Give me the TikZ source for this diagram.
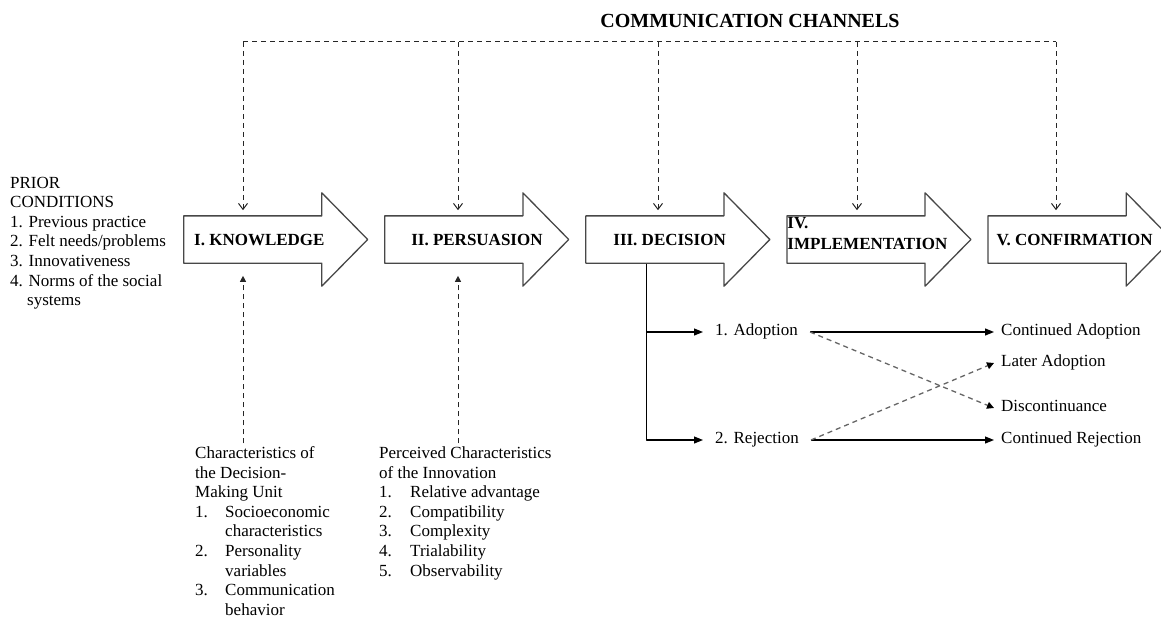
\documentclass[tikz,border=0pt]{standalone}
\usepackage{fontspec}
\setmainfont{Liberation Serif}
\usetikzlibrary{shapes.arrows,positioning,calc,arrows.meta}
\begin{document}
\begin{tikzpicture}[x=1pt,y=-1pt,line join=round,font=\fontsize{17}{19.6}\selectfont,
		stage/.style={single arrow,draw=black!72,line width=1.3pt,fill=white,minimum height=184pt,single arrow head extend=23pt,single arrow tip angle=91,inner xsep=0pt,inner ysep=23pt,text height=0pt,text depth=0pt},
		stagetext/.style={inner sep=0pt,font=\fontsize{17}{21}\selectfont\bfseries,text height=11.3pt,text depth=0pt},
		chan/.style={line width=1pt,draw=black!85,dash pattern=on 5pt off 4pt},
		flow/.style={line width=1.1pt,-{Triangle[length=9pt,width=7pt]}},
		crossflow/.style={line width=1.3pt,draw=black!60,dash pattern=on 5pt off 4pt,-{Triangle[length=7pt,width=7pt,black]}},
		choice/.style={inner xsep=12pt,inner ysep=0pt,text height=11.6pt,text depth=3.7pt,anchor=west},
		result/.style={inner xsep=7pt,inner ysep=0pt,text height=11.6pt,text depth=3.7pt,anchor=west},
		listtext/.style={inner sep=0pt,align=left,anchor=north west}]
	\useasboundingbox (0,0) rectangle (1161,639);
	\node[font=\fontsize{20}{24}\selectfont\bfseries] (title) at (750,21) {COMMUNICATION CHANNELS};
	\node[stage,anchor=tail] (kn) at (183,239.5) {};
	\node[stage,right=15.5pt of kn] (pe) {};
	\node[stage,right=15.5pt of pe] (de) {};
	\node[stage,right=15.5pt of de] (im) {};
	\node[stage,right=15.5pt of im] (co) {};
	\node[stagetext,right=11pt of kn.tail] (knt) {I. KNOWLEDGE};
	\node[stagetext,right=27pt of pe.tail] (pet) {II. PERSUASION};
	\node[stagetext,right=28pt of de.tail] (det) {III. DECISION};
	\node[inner sep=0pt,font=\fontsize{17}{21}\selectfont\bfseries,align=left,anchor=north west] (imt) at ($(im.tail)+(1,-22.5)$) {IV.\\IMPLEMENTATION};
	\node[stagetext,right=9pt of co.tail] (cot) {V. CONFIRMATION};
	\node[listtext] (prior) at (10,176.7) {PRIOR\\CONDITIONS\\1. Previous practice\\2. Felt needs/problems\\3. Innovativeness\\4. Norms of the social\\\hspace*{17pt}systems};
	\node[listtext] (unit) at (195,446.4) {Characteristics of\\the Decision-\\Making Unit\\\makebox[30pt][l]{1.}Socioeconomic\\\hspace*{30pt}characteristics\\\makebox[30pt][l]{2.}Personality\\\hspace*{30pt}variables\\\makebox[30pt][l]{3.}Communication\\\hspace*{30pt}behavior};
	\node[listtext] (innov) at (379,446.4) {Perceived Characteristics\\of the Innovation\\\makebox[31pt][l]{1.}Relative advantage\\\makebox[31pt][l]{2.}Compatibility\\\makebox[31pt][l]{3.}Complexity\\\makebox[31pt][l]{4.}Trialability\\\makebox[31pt][l]{5.}Observability};
	\foreach \s/\x in {kn/243,pe/458,de/658,im/857,co/1056}{
		\coordinate (top-\s) at (\x,42);
		\draw[chan,-{Straight Barb[length=6pt,width=9pt]},shorten >=5pt] (top-\s) -- (top-\s |- \s.north);
	}
	\draw[chan] (top-kn) -- (top-co);
	\draw[chan,-{Triangle[length=6pt,width=6pt]},shorten >=12pt] ([yshift=3pt]unit.north -| top-kn) -- (top-kn |- kn.south);
	\draw[chan,-{Triangle[length=6pt,width=6pt]},shorten >=12pt] ([yshift=3pt]innov.north -| top-pe) -- (top-pe |- pe.south);
	\node[choice] (ad) at (703,332) {1. Adoption};
	\node[choice] (rj) at (703,440) {2. Rejection};
	\node[result] (ca) at (994,332) {Continued Adoption};
	\node[result] (la) at (994,363) {Later Adoption};
	\node[result] (dc) at (994,408) {Discontinuance};
	\node[result] (cr) at (994,440) {Continued Rejection};
	\coordinate (split) at ($(de.tail)+(61,0)$);
	\draw[flow] (split |- de.south) |- (ad);
	\draw[flow] (split |- de.south) |- (rj);
	\draw[flow] (ad) -- (ca);
	\draw[flow] (rj) -- (cr);
	\draw[crossflow] (ad.east) -- (dc.west);
	\draw[crossflow] (rj.east) -- (la.west);
\end{tikzpicture}
\end{document}
